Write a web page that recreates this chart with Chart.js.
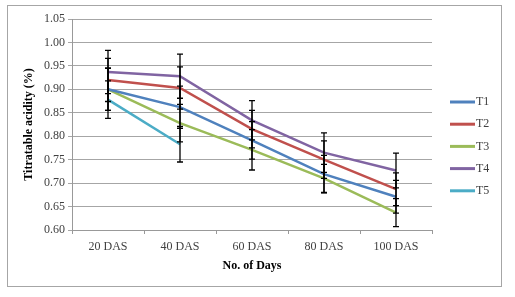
<!DOCTYPE html>
<html>
<head>
<meta charset="utf-8">
<script src="https://cdn.jsdelivr.net/npm/chart.js@4"></script>
<style>
  body { margin: 0; background: #fff; }
  #box { position: absolute; left: 7px; top: 5px; width: 493px; height: 280px; border: 1px solid #a6a6a6; }
</style>
</head>
<body>
<div id="box"><canvas id="acidChart" width="493" height="280"></canvas></div>
<script>
const days = ["20 DAS", "40 DAS", "60 DAS", "80 DAS", "100 DAS"];
const t1 = [0.900, 0.862, 0.791, 0.719, 0.671];
const t2 = [0.920, 0.903, 0.815, 0.750, 0.687];
const t3 = [0.900, 0.828, 0.771, 0.710, 0.637];
const t4 = [0.937, 0.928, 0.834, 0.765, 0.727];
const t5 = [0.878, 0.783];
const err1 = [0.045, 0.045, 0.040, 0.040, 0.035];
const err2 = [0.046, 0.045, 0.040, 0.040, 0.035];
const err3 = [0.045, 0.040, 0.043, 0.030, 0.030];
const err4 = [0.046, 0.047, 0.042, 0.042, 0.037];
const err5 = [0.040, 0.038];

const serif = "'Liberation Serif', 'Times New Roman', serif";

// error bars drawn after the lines
const errorBars = {
  id: "errorBars",
  afterDatasetsDraw(chart) {
    const c = chart.ctx;
    const y = chart.scales.y;
    c.save();
    c.strokeStyle = "#000";
    c.lineWidth = 1.3;
    chart.data.datasets.forEach((ds, i) => {
      const meta = chart.getDatasetMeta(i);
      meta.data.forEach((pt, j) => {
        const e = ds.errors[j];
        if (e == null) return;
        const top = y.getPixelForValue(ds.data[j] + e);
        const bot = y.getPixelForValue(ds.data[j] - e);
        c.beginPath();
        c.moveTo(pt.x, top); c.lineTo(pt.x, bot);
        c.moveTo(pt.x - 3, top); c.lineTo(pt.x + 3, top);
        c.moveTo(pt.x - 3, bot); c.lineTo(pt.x + 3, bot);
        c.stroke();
      });
    });
    c.restore();
  }
};

// legend on the right, line samples like the original
const sideLegend = {
  id: "sideLegend",
  afterDraw(chart) {
    const c = chart.ctx;
    const x0 = chart.chartArea.right + 18;
    c.save();
    c.font = "12px " + serif;
    c.textBaseline = "middle";
    chart.data.datasets.forEach((ds, i) => {
      const yy = 96 + i * 22.2;
      c.strokeStyle = ds.borderColor;
      c.lineWidth = 3;
      c.beginPath();
      c.moveTo(x0, yy); c.lineTo(x0 + 25, yy);
      c.stroke();
      c.fillStyle = "#404040";
      c.fillText(ds.label, x0 + 26, yy);
    });
    c.restore();
  }
};

function line(label, data, errors, color) {
  return { label, data, errors, borderColor: color, backgroundColor: color,
           borderWidth: 2.5, pointRadius: 0, tension: 0, fill: false };
}

new Chart(document.getElementById("acidChart"), {
  type: "line",
  data: {
    labels: days,
    datasets: [
      line("T1", t1, err1, "#4f81bd"),
      line("T2", t2, err2, "#c0504d"),
      line("T3", t3, err3, "#9bbb59"),
      line("T4", t4, err4, "#8064a2"),
      line("T5", t5, err5, "#4bacc6"),
    ],
  },
  options: {
    responsive: false,
    animation: false,
    layout: { padding: { top: 13, right: 69, bottom: 0, left: 10 } },
    plugins: { legend: { display: false }, tooltip: { enabled: false } },
    scales: {
      x: {
        offset: true,
        grid: { drawOnChartArea: false, offset: true, color: "#999", tickLength: 4 },
        border: { color: "#999" },
        ticks: { color: "#404040", font: { family: serif, size: 12 }, padding: 6 },
        title: { display: true, text: "No. of Days", color: "#000",
                 font: { family: serif, size: 12, weight: "bold" }, padding: { top: 2, bottom: 13 } },
        afterFit: (s) => { s.height = 56; },
      },
      y: {
        min: 0.6,
        max: 1.05,
        grid: { color: "#a6a6a6", tickLength: 4 },
        border: { color: "#999" },
        ticks: { stepSize: 0.05, color: "#404040", font: { family: serif, size: 12 },
                 callback: (v) => v.toFixed(2) },
        title: { display: true, text: "Titratable acidity (%)", color: "#000",
                 font: { family: serif, size: 12, weight: "bold" }, padding: { top: 4, bottom: 4 } },
        afterFit: (s) => { s.width = 54; },
      },
    },
  },
  plugins: [errorBars, sideLegend],
});
</script>
</body>
</html>
